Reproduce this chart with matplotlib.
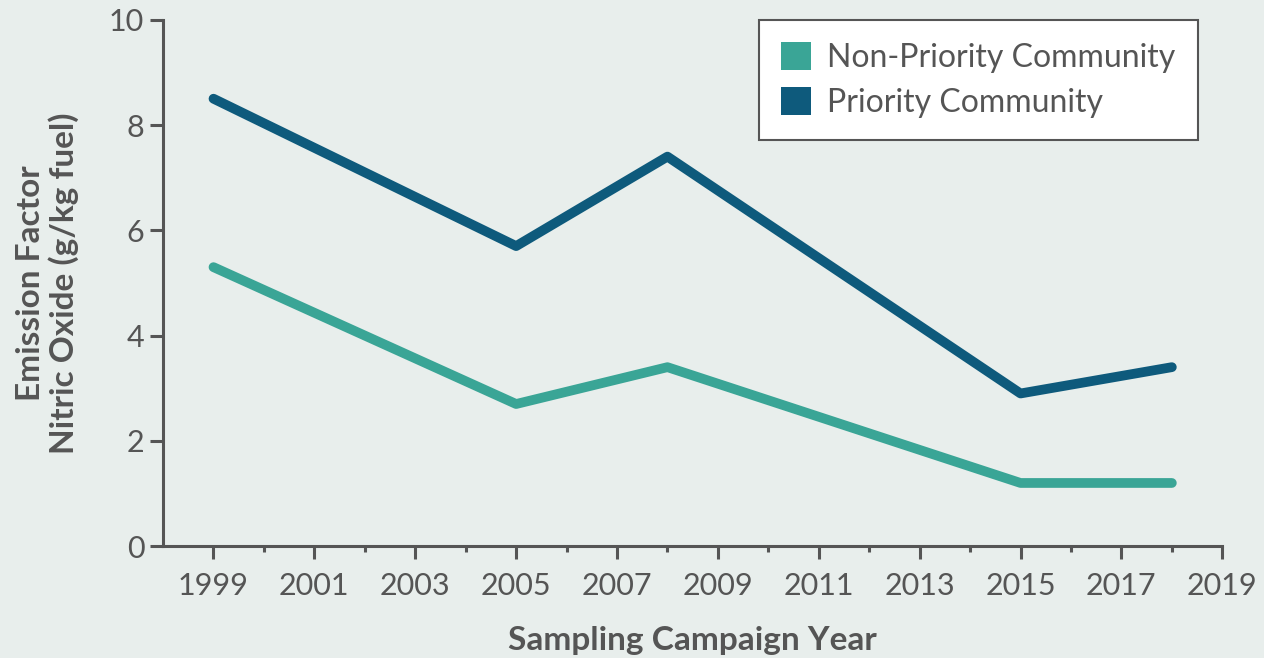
import numpy as np
import matplotlib.pyplot as plt
from matplotlib.patches import Patch

years = [1999, 2005, 2008, 2015, 2018]
non_priority = [5.3, 2.7, 3.4, 1.2, 1.2]
priority = [8.5, 5.7, 7.4, 2.9, 3.4]
series_names = ['Non-Priority Community', 'Priority Community']
colors = ['#3aa596', '#0e5a7c']

bg = '#e8eeec'
grey = '#555555'

plt.rcParams['font.family'] = ['Lato', 'DejaVu Sans']

fig = plt.figure(figsize=(12.64, 6.58), dpi=100, facecolor=bg)
ax = fig.add_axes([0.129, 0.170, 0.838, 0.800])
ax.set_facecolor(bg)

for vals, c in zip([non_priority, priority], colors):
    ax.plot(years, vals, color=c, lw=7, solid_capstyle='round', solid_joinstyle='round')

ax.set_xlim(1998, 2019)
ax.set_ylim(0, 10)
ax.set_xticks(np.arange(1999, 2020, 2))
ax.set_xticks(np.arange(2000, 2019, 2), minor=True)
ax.set_yticks(np.arange(0, 11, 2))

for s in ['top', 'right']:
    ax.spines[s].set_visible(False)
for s in ['left', 'bottom']:
    ax.spines[s].set_color(grey)
    ax.spines[s].set_linewidth(2.2)

ax.tick_params(axis='both', which='major', direction='out', length=9.5, width=2.2,
               color=grey, labelcolor=grey, labelsize=22, pad=4)
ax.tick_params(axis='x', which='minor', direction='out', length=4.5, width=2.2, color=grey)
ax.tick_params(axis='x', which='major', pad=9)

ax.set_xlabel('Sampling Campaign Year', fontsize=24, fontweight='bold', color=grey, labelpad=19)
ax.set_ylabel('Emission Factor\nNitric Oxide (g/kg fuel)', fontsize=24, fontweight='bold',
              color=grey, labelpad=22, linespacing=1.1)

handles = [Patch(facecolor=c, edgecolor='none') for c in colors]
leg = ax.legend(handles, series_names, loc='upper right', bbox_to_anchor=(0.977, 1.0),
                fontsize=23, frameon=True, fancybox=False, handlelength=0.95, handleheight=0.95,
                handletextpad=0.5, labelspacing=0.45, borderpad=0.7, borderaxespad=0,
                labelcolor=grey)
leg.get_frame().set_edgecolor(grey)
leg.get_frame().set_linewidth(1.5)
leg.get_frame().set_facecolor('white')
leg.get_frame().set_alpha(1)

fig.savefig('out.png', dpi=100, facecolor=bg)
